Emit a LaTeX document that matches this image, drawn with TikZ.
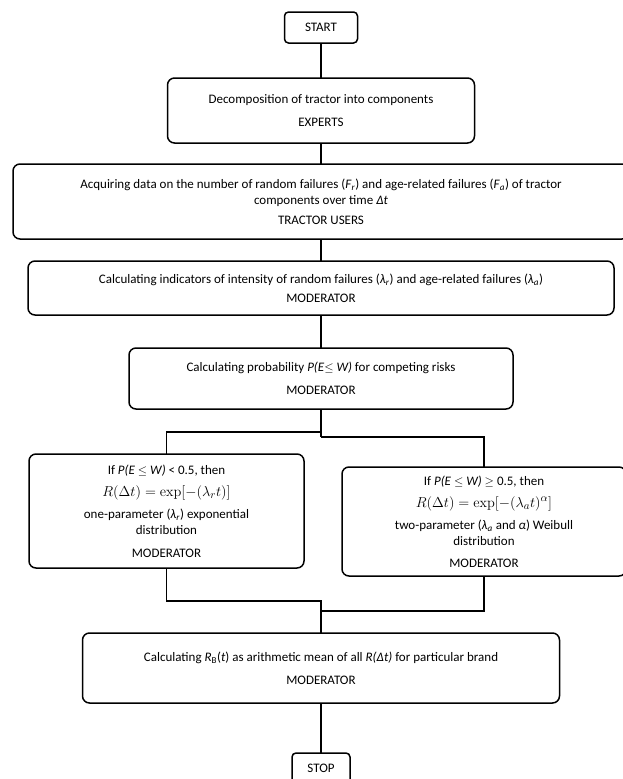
\documentclass[tikz,border=0pt]{standalone}
\usepackage[no-math]{fontspec}
\setmainfont{Carlito}
\usepackage{tikz}
\usetikzlibrary{positioning}

\newcommand{\isub}[2]{\textit{#1}\textsubscript{\textit{#2}}}
\newcommand{\bigmath}[1]{{\fontsize{15}{16}\selectfont$#1$}}

\begin{document}
\begin{tikzpicture}[line width=1.5pt,node distance=2cm,
  proc node/.style={rectangle,rounded corners=7pt,draw,outer sep=0pt,align=center,font=\fontsize{13}{16}\selectfont},
  term node/.style={proc node,rounded corners=4pt,minimum height=31pt}]
  \useasboundingbox (0,0) rectangle (622pt,-779pt);
  \node[term node,minimum width=73pt] (1) at (321pt,-27.5pt) {START};
  \node[proc node,minimum width=307pt,minimum height=65pt] (2) [below=35pt of 1]
    {Decomposition of tractor into components\\[7pt] EXPERTS};
  \node[proc node,minimum width=616pt,minimum height=75pt] (3) [below=21pt of 2]
    {Acquiring data on the number of random failures (\isub{F}{r}) and age-related failures (\isub{F}{a}) of tractor\\
     components over time \textit{Δt}\\[4pt] TRACTOR USERS};
  \node[proc node,minimum width=586pt,minimum height=54pt] (4) [below=22pt of 3]
    {Calculating indicators of intensity of random failures (\isub{λ}{r}) and age-related failures (\isub{λ}{a})\\[3pt] MODERATOR};
  \node[proc node,minimum width=384pt,minimum height=61pt] (5) [below=33pt of 4]
    {Calculating probability \textit{P(E$\leq$ W)} for competing risks\\[7pt] MODERATOR};
  \node[proc node,minimum width=275pt,minimum height=114pt] (6) [below=45pt of 5,xshift=-154.5pt]
    {If \textit{P(E $\leq$ W)} < 0.5, then\\[6pt]
     \bigmath{R(\Delta t) = \exp[-(\lambda_r t)]}\\[6pt]
     one-parameter (\isub{λ}{r}) exponential\\ distribution\\[7pt] MODERATOR};
  \node[proc node,minimum width=284pt,minimum height=109pt] (7) [below=58pt of 5,xshift=163pt]
    {If \textit{P(E $\leq$ W)} $\geq$ 0.5, then\\[6pt]
     \bigmath{R(\Delta t) = \exp[-(\lambda_a t)^{\alpha}]}\\[6pt]
     two-parameter (\isub{λ}{a} and \textit{α}) Weibull\\ distribution\\[6pt] MODERATOR};
  \node[proc node,minimum width=477pt,minimum height=70pt] (8) [below=224pt of 5]
    {Calculating \textit{R}\textsubscript{B}(\textit{t}) as arithmetic mean of all \textit{R(Δt)} for particular brand\\[7pt] MODERATOR};
  \node[term node,minimum width=58pt] (9) [below=50pt of 8] {STOP};
  \coordinate[below=23pt of 5] (5a);
  \coordinate[below=28pt of 5] (5b);
  \coordinate[above=32pt of 8] (8a);
  \coordinate[above=22pt of 8] (8b);
  \path (1) edge (2) (2) edge (3) (3) edge (4) (4) edge (5) (8) edge (9);
  \draw (5) -- (5b);
  \draw (5a) -| (6);
  \draw (5b) -| (7);
  \draw (6) |- (8a) -- (8);
  \draw (7) |- (8b);
\end{tikzpicture}
\end{document}
